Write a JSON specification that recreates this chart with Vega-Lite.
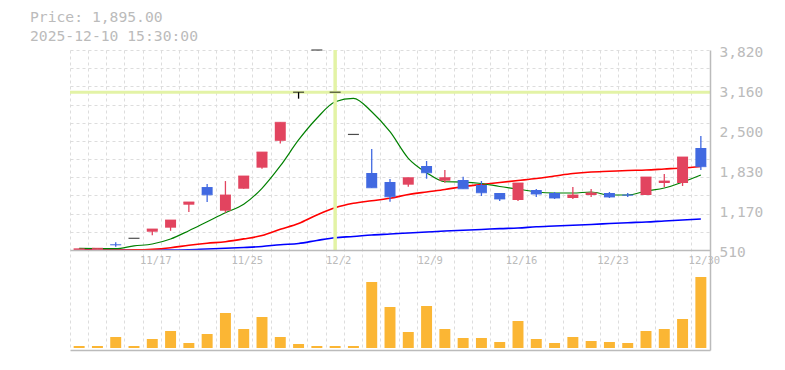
{
  "$schema": "https://vega.github.io/schema/vega-lite/v6.json",
  "width": 640,
  "height": 300,
  "autosize": "none",
  "padding": {"left": 70, "top": 50, "right": 75, "bottom": 20},
  "background": "white",
  "config": {"view": {"stroke": null}, "font": "DejaVu Sans Mono"},
  "title": {
    "text": ["Price: 1,895.00", "2025-12-10 15:30:00"],
    "anchor": "start",
    "frame": "group",
    "dx": -40,
    "dy": 26,
    "offset": 12,
    "baseline": "bottom",
    "font": "DejaVu Sans Mono",
    "fontSize": 14.7,
    "fontWeight": "normal",
    "color": "#bbbbbb",
    "lineHeight": 18.5
  },
  "datasets": {
    "px": [
      {"d": "11/11", "o": 512, "h": 533, "l": 512, "c": 533, "v": 20000, "g": 540, "r": 512, "b": 512},
      {"d": "11/12", "o": 515, "h": 540, "l": 512, "c": 540, "v": 20000, "g": 537, "r": 512, "b": 512},
      {"d": "11/13", "o": 605, "h": 640, "l": 567, "c": 598, "v": 110000, "g": 534, "r": 512, "b": 512},
      {"d": "11/14", "o": 706, "h": 706, "l": 706, "c": 706, "v": 20000, "g": 580, "r": 514, "b": 512},
      {"d": "11/17", "o": 815, "h": 860, "l": 758, "c": 860, "v": 90000, "g": 611, "r": 524, "b": 512},
      {"d": "11/18", "o": 882, "h": 1009, "l": 830, "c": 1009, "v": 170000, "g": 694, "r": 550, "b": 512},
      {"d": "11/19", "o": 1263, "h": 1308, "l": 1141, "c": 1308, "v": 50000, "g": 832, "r": 590, "b": 517},
      {"d": "11/20", "o": 1556, "h": 1606, "l": 1308, "c": 1428, "v": 140000, "g": 981, "r": 623, "b": 529},
      {"d": "11/21", "o": 1163, "h": 1655, "l": 1130, "c": 1424, "v": 350000, "g": 1130, "r": 650, "b": 540},
      {"d": "11/25", "o": 1528, "h": 1739, "l": 1528, "c": 1739, "v": 190000, "g": 1270, "r": 696, "b": 553},
      {"d": "11/26", "o": 1877, "h": 2136, "l": 1860, "c": 2136, "v": 310000, "g": 1535, "r": 752, "b": 570},
      {"d": "11/27", "o": 2322, "h": 2628, "l": 2279, "c": 2628, "v": 110000, "g": 1905, "r": 855, "b": 600},
      {"d": "11/28", "o": 3128, "h": 3128, "l": 3021, "c": 3128, "v": 40000, "g": 2336, "r": 951, "b": 620},
      {"d": "12/1", "o": 3828, "h": 3828, "l": 3828, "c": 3828, "v": 20000, "g": 2696, "r": 1092, "b": 670},
      {"d": "12/2", "o": 3128, "h": 3128, "l": 3128, "c": 3128, "v": 20000, "g": 2971, "r": 1213, "b": 716},
      {"d": "12/3", "o": 2428, "h": 2428, "l": 2428, "c": 2428, "v": 20000, "g": 3027, "r": 1286, "b": 736},
      {"d": "12/4", "o": 1789, "h": 2187, "l": 1545, "c": 1545, "v": 660000, "g": 2805, "r": 1328, "b": 761},
      {"d": "12/5", "o": 1639, "h": 1689, "l": 1313, "c": 1396, "v": 410000, "g": 2473, "r": 1369, "b": 777},
      {"d": "12/8", "o": 1595, "h": 1711, "l": 1562, "c": 1711, "v": 160000, "g": 2032, "r": 1432, "b": 794},
      {"d": "12/9", "o": 1905, "h": 1988, "l": 1694, "c": 1794, "v": 420000, "g": 1794, "r": 1475, "b": 810},
      {"d": "12/10", "o": 1661, "h": 1838, "l": 1628, "c": 1711, "v": 190000, "g": 1644, "r": 1515, "b": 827},
      {"d": "12/11", "o": 1673, "h": 1727, "l": 1528, "c": 1528, "v": 100000, "g": 1639, "r": 1565, "b": 840},
      {"d": "12/12", "o": 1590, "h": 1656, "l": 1407, "c": 1462, "v": 100000, "g": 1615, "r": 1598, "b": 852},
      {"d": "12/15", "o": 1457, "h": 1457, "l": 1324, "c": 1358, "v": 60000, "g": 1565, "r": 1631, "b": 867},
      {"d": "12/16", "o": 1341, "h": 1623, "l": 1324, "c": 1623, "v": 270000, "g": 1523, "r": 1664, "b": 877},
      {"d": "12/17", "o": 1507, "h": 1523, "l": 1391, "c": 1440, "v": 90000, "g": 1474, "r": 1697, "b": 897},
      {"d": "12/18", "o": 1457, "h": 1474, "l": 1358, "c": 1374, "v": 50000, "g": 1457, "r": 1739, "b": 910},
      {"d": "12/19", "o": 1374, "h": 1557, "l": 1358, "c": 1424, "v": 110000, "g": 1457, "r": 1780, "b": 923},
      {"d": "12/22", "o": 1424, "h": 1523, "l": 1391, "c": 1457, "v": 70000, "g": 1474, "r": 1805, "b": 935},
      {"d": "12/23", "o": 1457, "h": 1474, "l": 1374, "c": 1391, "v": 60000, "g": 1424, "r": 1817, "b": 951},
      {"d": "12/24", "o": 1428, "h": 1457, "l": 1391, "c": 1420, "v": 50000, "g": 1424, "r": 1830, "b": 965},
      {"d": "12/25", "o": 1424, "h": 1722, "l": 1424, "c": 1722, "v": 170000, "g": 1490, "r": 1838, "b": 976},
      {"d": "12/26", "o": 1623, "h": 1772, "l": 1557, "c": 1656, "v": 190000, "g": 1540, "r": 1855, "b": 993},
      {"d": "12/29", "o": 1623, "h": 2054, "l": 1573, "c": 2054, "v": 290000, "g": 1639, "r": 1872, "b": 1009},
      {"d": "12/30", "o": 2203, "h": 2402, "l": 1838, "c": 1895, "v": 710000, "g": 1756, "r": 1896, "b": 1026}
    ],
    "cross": [{"d": "12/2", "p": 3128, "lo": 512, "hi": 3828}]
  },
  "data": {"name": "px"},
  "layer": [
    {
      "mark": {"type": "tick", "opacity": 0},
      "encoding": {
        "x": {"field": "d", "type": "ordinal", "sort": null,
          "scale": {"type": "band", "paddingInner": 0, "paddingOuter": 0, "domain": ["11/11","11/12","11/13","11/14","11/17","11/18","11/19","11/20","11/21","11/25","11/26","11/27","11/28","12/1","12/2","12/3","12/4","12/5","12/8","12/9","12/10","12/11","12/12","12/15","12/16","12/17","12/18","12/19","12/22","12/23","12/24","12/25","12/26","12/29","12/30"]},
          "axis": {"orient": "bottom", "grid": true, "bandPosition": 0, "gridDash": [3, 3], "gridColor": "#dddddd", "gridWidth": 1, "labels": false, "ticks": false, "domain": true, "domainColor": "#bbbbbb", "domainWidth": 1.5, "title": null, "zindex": 0}},
        "y": {"field": "c", "type": "quantitative",
          "scale": {"domain": [-1146, 3828], "nice": false, "zero": false},
          "axis": {"orient": "left", "values": [512, 813.45, 1114.91, 1416.36, 1717.82, 2019.27, 2320.73, 2622.18, 2923.64, 3225.09, 3526.55, 3828], "grid": true, "gridDash": [3, 3], "gridColor": "#dddddd", "labels": false, "ticks": false, "domain": false, "title": null, "zindex": 0}}
      }
    },
    {
      "mark": {"type": "bar", "width": {"band": 0.6}, "color": "#fbb634"},
      "encoding": {
        "x": {"field": "d", "type": "ordinal", "sort": null, "scale": {"type": "band", "paddingInner": 0, "paddingOuter": 0}, "axis": null},
        "y": {"field": "v", "type": "quantitative", "scale": {"domain": [-20000, 2980000], "nice": false, "zero": false}, "axis": null}
      }
    },
    {
      "mark": {"type": "tick", "opacity": 0},
      "encoding": {
        "x": {"field": "d", "type": "ordinal", "sort": null, "scale": {"type": "band", "paddingInner": 0, "paddingOuter": 0},
          "axis": {"orient": "bottom", "offset": -100, "values": ["11/17", "11/25", "12/2", "12/9", "12/16", "12/23", "12/30"], "grid": false, "ticks": false, "tickSize": 0, "domain": true, "domainColor": "#bbbbbb", "domainWidth": 1.5, "labelPadding": 5, "labelOffset": 3.5, "labelColor": "#bbbbbb", "labelFont": "DejaVu Sans Mono", "labelFontSize": 10.5, "labelAngle": 0, "title": null, "zindex": 1}},
        "y": {"field": "c", "type": "quantitative", "scale": {"domain": [-1146, 3828], "nice": false, "zero": false},
          "axis": {"orient": "right", "values": [512, 1175.2, 1838.4, 2501.6, 3164.8, 3828], "labelExpr": "format(floor(datum.value/10)*10, ',')", "grid": false, "ticks": false, "tickSize": 0, "domain": true, "domainColor": "#bbbbbb", "domainWidth": 1.5, "labelPadding": 9, "labelOffset": 2.5, "labelColor": "#bbbbbb", "labelFont": "DejaVu Sans Mono", "labelFontSize": 14.5, "labelBaseline": "middle", "title": null, "zindex": 1}}
      }
    },
    {
      "mark": {"type": "line", "color": "#0000ff", "strokeWidth": 1.6, "interpolate": "monotone"},
      "encoding": {
        "x": {"field": "d", "type": "ordinal", "sort": null, "scale": {"type": "band", "paddingInner": 0, "paddingOuter": 0}, "axis": null},
        "y": {"field": "b", "type": "quantitative", "scale": {"domain": [-1146, 3828], "nice": false, "zero": false}, "axis": null}
      }
    },
    {
      "mark": {"type": "line", "color": "#ff0000", "strokeWidth": 1.6, "interpolate": "monotone"},
      "encoding": {
        "x": {"field": "d", "type": "ordinal", "sort": null, "scale": {"type": "band", "paddingInner": 0, "paddingOuter": 0}, "axis": null},
        "y": {"field": "r", "type": "quantitative", "scale": {"domain": [-1146, 3828], "nice": false, "zero": false}, "axis": null}
      }
    },
    {
      "mark": {"type": "line", "color": "#008000", "strokeWidth": 1.2, "interpolate": "monotone"},
      "encoding": {
        "x": {"field": "d", "type": "ordinal", "sort": null, "scale": {"type": "band", "paddingInner": 0, "paddingOuter": 0}, "axis": null},
        "y": {"field": "g", "type": "quantitative", "scale": {"domain": [-1146, 3828], "nice": false, "zero": false}, "axis": null}
      }
    },
    {
      "data": {"name": "cross"},
      "mark": {"type": "rule", "color": "#e3f3a6", "strokeWidth": 3.5},
      "encoding": {
        "x": {"field": "d", "type": "ordinal", "sort": null, "scale": {"type": "band", "paddingInner": 0, "paddingOuter": 0}, "axis": null},
        "y": {"field": "lo", "type": "quantitative", "scale": {"domain": [-1146, 3828], "nice": false, "zero": false}, "axis": null},
        "y2": {"field": "hi"}
      }
    },
    {
      "data": {"name": "cross"},
      "mark": {"type": "rule", "color": "#e3f3a6", "strokeWidth": 3},
      "encoding": {
        "y": {"field": "p", "type": "quantitative", "scale": {"domain": [-1146, 3828], "nice": false, "zero": false}, "axis": null}
      }
    },
    {
      "mark": {"type": "rule", "strokeWidth": 1.3},
      "encoding": {
        "x": {"field": "d", "type": "ordinal", "sort": null, "scale": {"type": "band", "paddingInner": 0, "paddingOuter": 0}, "axis": null},
        "y": {"field": "l", "type": "quantitative", "scale": {"domain": [-1146, 3828], "nice": false, "zero": false}, "axis": null},
        "y2": {"field": "h"},
        "color": {"condition": [{"test": "datum.c > datum.o", "value": "#e2445f"}, {"test": "datum.c < datum.o", "value": "#4169e1"}], "value": "#000000"}
      }
    },
    {
      "mark": {"type": "bar", "width": {"band": 0.6}},
      "encoding": {
        "x": {"field": "d", "type": "ordinal", "sort": null, "scale": {"type": "band", "paddingInner": 0, "paddingOuter": 0}, "axis": null},
        "y": {"field": "o", "type": "quantitative", "scale": {"domain": [-1146, 3828], "nice": false, "zero": false}, "axis": null},
        "y2": {"field": "c"},
        "color": {"condition": [{"test": "datum.c > datum.o", "value": "#e2445f"}, {"test": "datum.c < datum.o", "value": "#4169e1"}], "value": "#000000"}
      }
    },
    {
      "mark": {"type": "tick", "thickness": 1.2, "size": 11},
      "encoding": {
        "x": {"field": "d", "type": "ordinal", "sort": null, "scale": {"type": "band", "paddingInner": 0, "paddingOuter": 0}, "axis": null},
        "y": {"field": "c", "type": "quantitative", "scale": {"domain": [-1146, 3828], "nice": false, "zero": false}, "axis": null},
        "color": {"condition": [{"test": "datum.c > datum.o", "value": "#e2445f"}, {"test": "datum.c < datum.o", "value": "#4169e1"}], "value": "#000000"}
      }
    }
  ],
  "resolve": {"scale": {"y": "independent"}, "axis": {"x": "independent", "y": "independent"}}
}
